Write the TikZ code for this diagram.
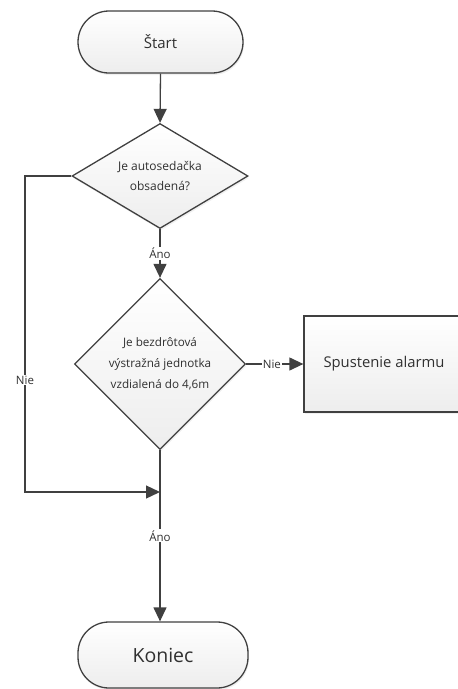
\documentclass[tikz,border=0pt]{standalone}
\usepackage{fontspec}
\setmainfont{Open Sans}
\usetikzlibrary{shapes.geometric,arrows.meta,shadows}
\definecolor{lc}{HTML}{404040}
\definecolor{tc}{HTML}{303030}
\begin{document}
\begin{tikzpicture}[x=1pt,y=-1pt,
  base/.style={draw=lc, line width=1.3pt, top color=white, bottom color=gray!14,
    text=tc, align=center, inner sep=0pt,
    drop shadow={shadow xshift=1pt, shadow yshift=-2pt, opacity=0.12}},
  term/.style={base, rectangle, rounded corners=31pt, minimum width=165pt, minimum height=62pt},
  dec/.style={base, diamond},
  proc/.style={base, rectangle, minimum width=160pt, minimum height=96pt},
  conn/.style={draw=lc, line width=1.3pt, -{Triangle[length=14pt,width=13pt]}},
  lbl/.style={fill=white, text=tc, inner sep=1pt, font=\fontsize{11.5}{14}\selectfont}
]
\useasboundingbox (0,0) rectangle (458,689);
\node[term, font=\fontsize{15}{18}\selectfont] (start) at (160.5,42) {Štart};
\node[dec, shape aspect=1.68, minimum width=176pt, minimum height=105pt,
  font=\fontsize{12}{20}\selectfont] (d1) at (160,176) {Je autosedačka\\obsadená?};
\node[dec, shape aspect=1, minimum width=171pt, minimum height=171pt,
  font=\fontsize{11.7}{21}\selectfont] (d2) at (160,364) {Je bezdrôtová\\výstražná jednotka\\vzdialená do 4,6m};
\node[proc, font=\fontsize{14.8}{18}\selectfont] (alarm) at (384,364) {Spustenie alarmu};
\node[term, minimum width=170pt, minimum height=66pt, font=\fontsize{19.5}{23}\selectfont] (end) at (163,655) {Koniec};
\coordinate (corner) at (25,492);
\coordinate (join) at (160,492);

\draw[conn] (start.south) -- (d1.north);
\draw[conn] (d1.south) -- node[lbl] {Áno} (d2.north);
\draw[conn] (d2.east) -- node[lbl, pos=0.45] {Nie} (alarm.west);
\draw[conn] (d1.west) -| (corner) -- (join);
\node[lbl] (nie1) at (25,380) {Nie};
\draw[conn] (d2.south) -- node[lbl, pos=0.5] {Áno} (d2.south |- end.north);
\end{tikzpicture}
\end{document}
